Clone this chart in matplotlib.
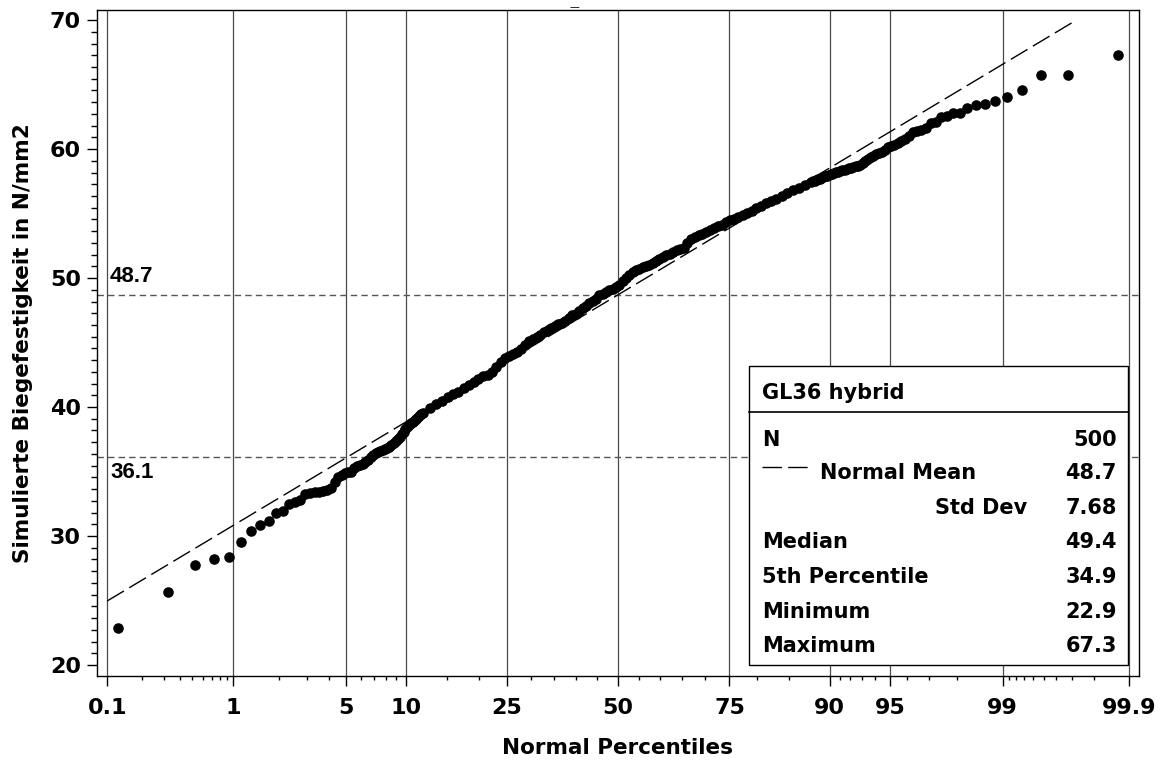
import matplotlib
matplotlib.use("Agg")
import matplotlib.pyplot as plt
from matplotlib.patches import Rectangle
from matplotlib.lines import Line2D
from matplotlib.transforms import blended_transform_factory
from statistics import NormalDist

# ---------------- data ----------------
n_obs = 500

low_ranks = list(range(1, 61))
low_values = [22.9, 25.7, 27.75, 28.25, 28.35, 29.55, 30.4, 30.85, 31.2, 31.8,
              31.95, 32.5, 32.65, 32.8, 33.25, 33.35, 33.4, 33.45, 33.5, 33.55,
              33.7, 34.2, 34.6, 34.75, 34.85, 34.95, 35.0, 35.3, 35.4, 35.5,
              35.6, 35.75, 35.9, 36.1, 36.3, 36.4, 36.5, 36.6, 36.7, 36.75,
              36.8, 36.9, 37.05, 37.2, 37.4, 37.55, 37.7, 37.9, 38.1, 38.3,
              38.45, 38.6, 38.75, 38.85, 39.0, 39.1, 39.25, 39.4, 39.45, 39.55]

mid_ranks = list(range(64, 441, 4))
mid_values = [39.9, 40.2, 40.5, 40.8, 41.0, 41.2, 41.45, 41.7, 41.95, 42.2,
              42.4, 42.5, 42.7, 43.1, 43.5, 43.8, 43.95, 44.1, 44.3, 44.5,
              44.8, 45.1, 45.3, 45.45, 45.6, 45.8, 45.95, 46.1, 46.25, 46.4,
              46.55, 46.7, 46.9, 47.1, 47.25, 47.45, 47.65, 47.85, 48.1, 48.25,
              48.4, 48.65, 48.75, 48.9, 49.05, 49.15, 49.3, 49.5, 49.75, 50.0,
              50.25, 50.45, 50.6, 50.7, 50.85, 50.95, 51.05, 51.2, 51.3, 51.45,
              51.6, 51.75, 51.9, 52.05, 52.15, 52.25, 52.35, 52.7, 53.0, 53.15,
              53.3, 53.45, 53.55, 53.7, 53.85, 54.0, 54.15, 54.35, 54.5, 54.6,
              54.75, 54.9, 55.05, 55.2, 55.4, 55.6, 55.8, 55.95, 56.1, 56.35,
              56.6, 56.8, 57.0, 57.25, 57.45]

high_ranks = list(range(441, 501))
high_values = [57.5, 57.55, 57.6, 57.65, 57.7, 57.78, 57.85, 57.9, 57.95, 58.0,
               58.05, 58.1, 58.15, 58.2, 58.25, 58.3, 58.35, 58.4, 58.45, 58.5,
               58.55, 58.6, 58.65, 58.7, 58.78, 58.9, 59.05, 59.2, 59.35, 59.45,
               59.6, 59.7, 59.8, 59.95, 60.15, 60.25, 60.35, 60.5, 60.6, 60.75,
               61.0, 61.3, 61.4, 61.47, 61.6, 61.99, 62.1, 62.5, 62.6, 62.8,
               62.8, 63.2, 63.4, 63.5, 63.7, 64.05, 64.55, 65.75, 65.75, 67.3]

normal_mean = 48.7
normal_std = 7.68
ref_levels = [48.7, 36.1]
ref_labels = ["48.7", "36.1"]

pct_major = [0.1, 1, 5, 10, 25, 50, 75, 90, 95, 99, 99.9]
pct_major_labels = ["0.1", "1", "5", "10", "25", "50", "75", "90", "95", "99", "99.9"]
pct_minor = [0.2, 0.3, 0.4, 0.5, 0.6, 0.7, 0.8, 0.9, 2, 3, 4, 6, 7, 8, 9, 15, 20,
             30, 35, 40, 45, 55, 60, 65, 70, 80, 85, 91, 92, 93, 94, 96, 97, 98,
             99.1, 99.2, 99.3, 99.4, 99.5, 99.6, 99.7, 99.8]
y_major = [20, 30, 40, 50, 60, 70]

inset_title = "GL36 hybrid"
inset_rows = ["N", "Normal Mean", "Std Dev", "Median", "5th Percentile", "Minimum", "Maximum"]
inset_values = ["500", "48.7", "7.68", "49.4", "34.9", "22.9", "67.3"]

# ---------------- helpers ----------------
nd = NormalDist()
def zq(p_percent):
    return nd.inv_cdf(p_percent / 100.0)

ranks = low_ranks + mid_ranks + high_ranks
values = low_values + mid_values + high_values
z_pts = [nd.inv_cdf((r - 0.375) / (n_obs + 0.25)) for r in ranks]

# ---------------- figure ----------------
W, H = 1164, 763
fig = plt.figure(figsize=(W / 100, H / 100), dpi=100)
ax = fig.add_axes([97 / W, (H - 676) / H, (1139 - 97) / W, (676 - 10) / H])

zlim = 3.152
ax.set_xlim(-zlim, zlim)
ax.set_ylim(19.15, 70.78)

# vertical grid lines at major percentiles
for p in pct_major:
    ax.axvline(zq(p), color="#4a4a4a", lw=0.9, zorder=1)

# horizontal reference lines
for lev, lab, dy in zip(ref_levels, ref_labels, [13.5, -10.7]):
    ax.axhline(lev, color="#555555", lw=1.0, dashes=(4.6, 3.0), zorder=1)
    trans = blended_transform_factory(ax.transAxes, ax.transData)
    ax.annotate(lab, xy=(0, lev), xycoords=trans, xytext=(9.4, dy),
                textcoords="offset points", ha="left", va="center",
                fontsize=16, fontweight="bold", family="Liberation Sans", zorder=3)

# normal reference line (from 0.1 percentile up to y = 70)
z_start = zq(0.1)
z_end = min(zq(99.9), (max(y_major) - normal_mean) / normal_std)
ax.plot([z_start, z_end],
        [normal_mean + normal_std * z_start, normal_mean + normal_std * z_end],
        color="black", lw=1.0, dashes=(14, 4.5), zorder=2)

# data points
ax.plot(z_pts, values, linestyle="none", marker="o", ms=6.6,
        color="black", mec="black", zorder=4)

# ticks
ax.set_xticks([zq(p) for p in pct_major])
ax.set_xticklabels(pct_major_labels)
ax.set_xticks([zq(p) for p in pct_minor], minor=True)
ax.set_yticks(y_major)
y_minor = []
for a, b in zip(y_major[:-1], y_major[1:]):
    for k in range(1, 11):
        y_minor.append(a + (b - a) * k / 11)
ax.set_yticks(y_minor, minor=True)

ax.tick_params(axis="both", which="major", direction="out", length=7, width=1,
               labelsize=16, color="black")
ax.tick_params(axis="x", which="major", pad=9)
ax.tick_params(axis="y", which="major", pad=4.5)
ax.tick_params(axis="x", which="minor", direction="out", length=3, width=1)
ax.tick_params(axis="y", which="minor", direction="out", length=4, width=1)
for lbl in ax.get_xticklabels() + ax.get_yticklabels():
    lbl.set_fontweight("bold")

for sp in ax.spines.values():
    sp.set_linewidth(1.0)
    sp.set_color("black")

ax.set_xlabel("Normal Percentiles", fontsize=15.5, fontweight="bold", va="center")
ax.xaxis.set_label_coords(0.5, (676 - 748) / 666)
ax.set_ylabel("Simulierte Biegefestigkeit in N/mm2", fontsize=15.5,
              fontweight="bold", va="center", ha="center")
ax.yaxis.set_label_coords((23 - 97) / 1042, 0.5)

# ---------------- inset statistics box ----------------
def ax_x(px):
    return (px - 97) / 1042
def ax_y(py):
    return (676 - py) / 666

bx0, bx1 = ax_x(749.3), ax_x(1128.3)
by0, by1 = ax_y(665), ax_y(366)
ax.add_patch(Rectangle((bx0, by0), bx1 - bx0, by1 - by0, transform=ax.transAxes,
                       facecolor="white", edgecolor="black", lw=1.0, zorder=6))
ax.add_line(Line2D([bx0, bx1], [ax_y(412.3), ax_y(412.3)], transform=ax.transAxes,
                   color="black", lw=1.2, zorder=7))

fs_box = 15
ax.text(ax_x(762), ax_y(392.7), inset_title, transform=ax.transAxes, ha="left",
        va="center", fontsize=fs_box, fontweight="bold", zorder=8)
row_y = [439.5, 473.3, 508.3, 542, 576.7, 611.7, 645.7]
for lab, val, ry in zip(inset_rows, inset_values, row_y):
    if lab == "Normal Mean":
        ax.text(ax_x(820), ax_y(ry), lab, transform=ax.transAxes, ha="left",
                va="center", fontsize=fs_box, fontweight="bold", zorder=8)
        ax.add_line(Line2D([ax_x(761.7), ax_x(808.3)], [ax_y(467), ax_y(467)],
                           transform=ax.transAxes, color="black", lw=1.0,
                           dashes=(14, 4.5), zorder=8))
    elif lab == "Std Dev":
        ax.text(ax_x(1027), ax_y(ry), lab, transform=ax.transAxes, ha="right",
                va="center", fontsize=fs_box, fontweight="bold", zorder=8)
    else:
        ax.text(ax_x(762), ax_y(ry), lab, transform=ax.transAxes, ha="left",
                va="center", fontsize=fs_box, fontweight="bold", zorder=8)
    ax.text(ax_x(1117), ax_y(ry), val, transform=ax.transAxes, ha="right",
            va="center", fontsize=fs_box, fontweight="bold", zorder=8)

# small title mark at the top
fig.text(574 / W, 1 - 7 / H, "\u2014", ha="center", va="center", fontsize=7)

fig.savefig("out.png", dpi=100)
